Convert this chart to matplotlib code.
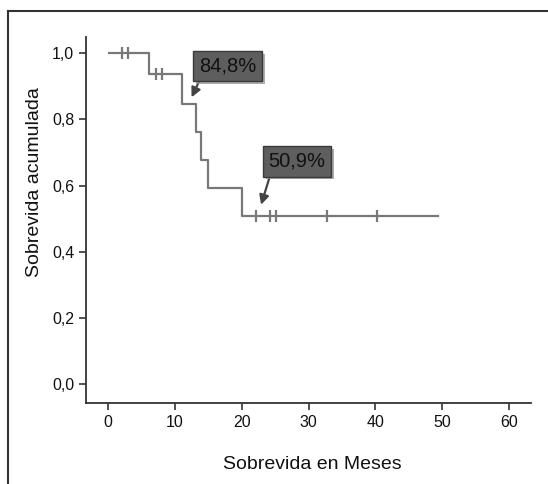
import matplotlib.pyplot as plt
import matplotlib.patheffects as pe
import numpy as np
from matplotlib.lines import Line2D

# Kaplan-Meier curve
event_times = [0.1, 6.1, 11.0, 13.1, 13.9, 14.9, 20.1]
survival = [1.0, 0.9375, 0.848, 0.762, 0.676, 0.594, 0.509]
end_time = 49.4
censor_times = [2.1, 3.0, 7.2, 8.1, 22.2, 24.2, 25.1, 32.8, 40.2]

x_ticks = [0, 10, 20, 30, 40, 50, 60]
y_ticks = [0.0, 0.2, 0.4, 0.6, 0.8, 1.0]

# annotations: (label, arrow tip x, tip y, box x, box y)
notes = [("84,8%", 12.5, 0.867, 17.9, 0.962),
         ("50,9%", 22.9, 0.542, 28.3, 0.673)]

plt.rcParams['font.family'] = ['Liberation Sans', 'DejaVu Sans']

fig = plt.figure(figsize=(5.48, 4.84), dpi=100)
ax = fig.add_axes([0.157, 0.167, 0.812, 0.757])

line_col = '#787878'
axis_col = '#333333'

xs = event_times + [end_time]
ys = survival + [survival[-1]]
ax.step(xs, ys, where='post', color=line_col, lw=1.6)

# censored marks sit on the curve
idx = np.searchsorted(event_times, censor_times, side='right') - 1
cy = [survival[i] for i in idx]
ax.plot(censor_times, cy, linestyle='none', marker='|', markersize=8,
        markeredgewidth=1.6, color=line_col)

for label, tx, ty, bx, by in notes:
    ann = ax.annotate(label, xy=(tx, ty), xytext=(bx, by), fontsize=14.5,
                      ha='center', va='center', color='#111111',
                      bbox=dict(boxstyle='square,pad=0.28', fc='#5e5e5e', ec='#3a3a3a', lw=1),
                      arrowprops=dict(arrowstyle='-|>', color='#444444', lw=1.6,
                                      mutation_scale=14, relpos=(0.05, 0.0),
                                      shrinkA=0, shrinkB=0))
    ann.get_bbox_patch().set_path_effects(
        [pe.withSimplePatchShadow(offset=(2, -2), shadow_rgbFace='#999999', alpha=0.8)])

ax.set_xlim(-3.3, 63.3)
ax.set_ylim(-0.058, 1.05)
ax.set_xticks(x_ticks)
ax.set_yticks(y_ticks)
ax.set_yticklabels([f"{v:.1f}".replace('.', ',') for v in y_ticks])
ax.tick_params(length=5, width=1.2, color=axis_col, labelsize=11.5, labelcolor='#111111')

for s in ['top', 'right']:
    ax.spines[s].set_visible(False)
for s in ['left', 'bottom']:
    ax.spines[s].set_color(axis_col)
    ax.spines[s].set_linewidth(1.3)

ax.set_xlabel('Sobrevida en Meses', fontsize=14, color='#111111', va='center')
ax.set_ylabel('Sobrevida acumulada', fontsize=14, color='#111111', va='center')
ax.xaxis.set_label_coords(0.508, -0.167)
ax.yaxis.set_label_coords(-0.115, 0.604)

# outer frame (cut at right and bottom)
fig.add_artist(Line2D([8 / 548, 8 / 548], [0, 1 - 11 / 484], transform=fig.transFigure,
                      color='#333333', lw=1.5))
fig.add_artist(Line2D([8 / 548, 1], [1 - 11 / 484, 1 - 11 / 484], transform=fig.transFigure,
                      color='#333333', lw=1.5))

fig.savefig('out.png', dpi=100)
